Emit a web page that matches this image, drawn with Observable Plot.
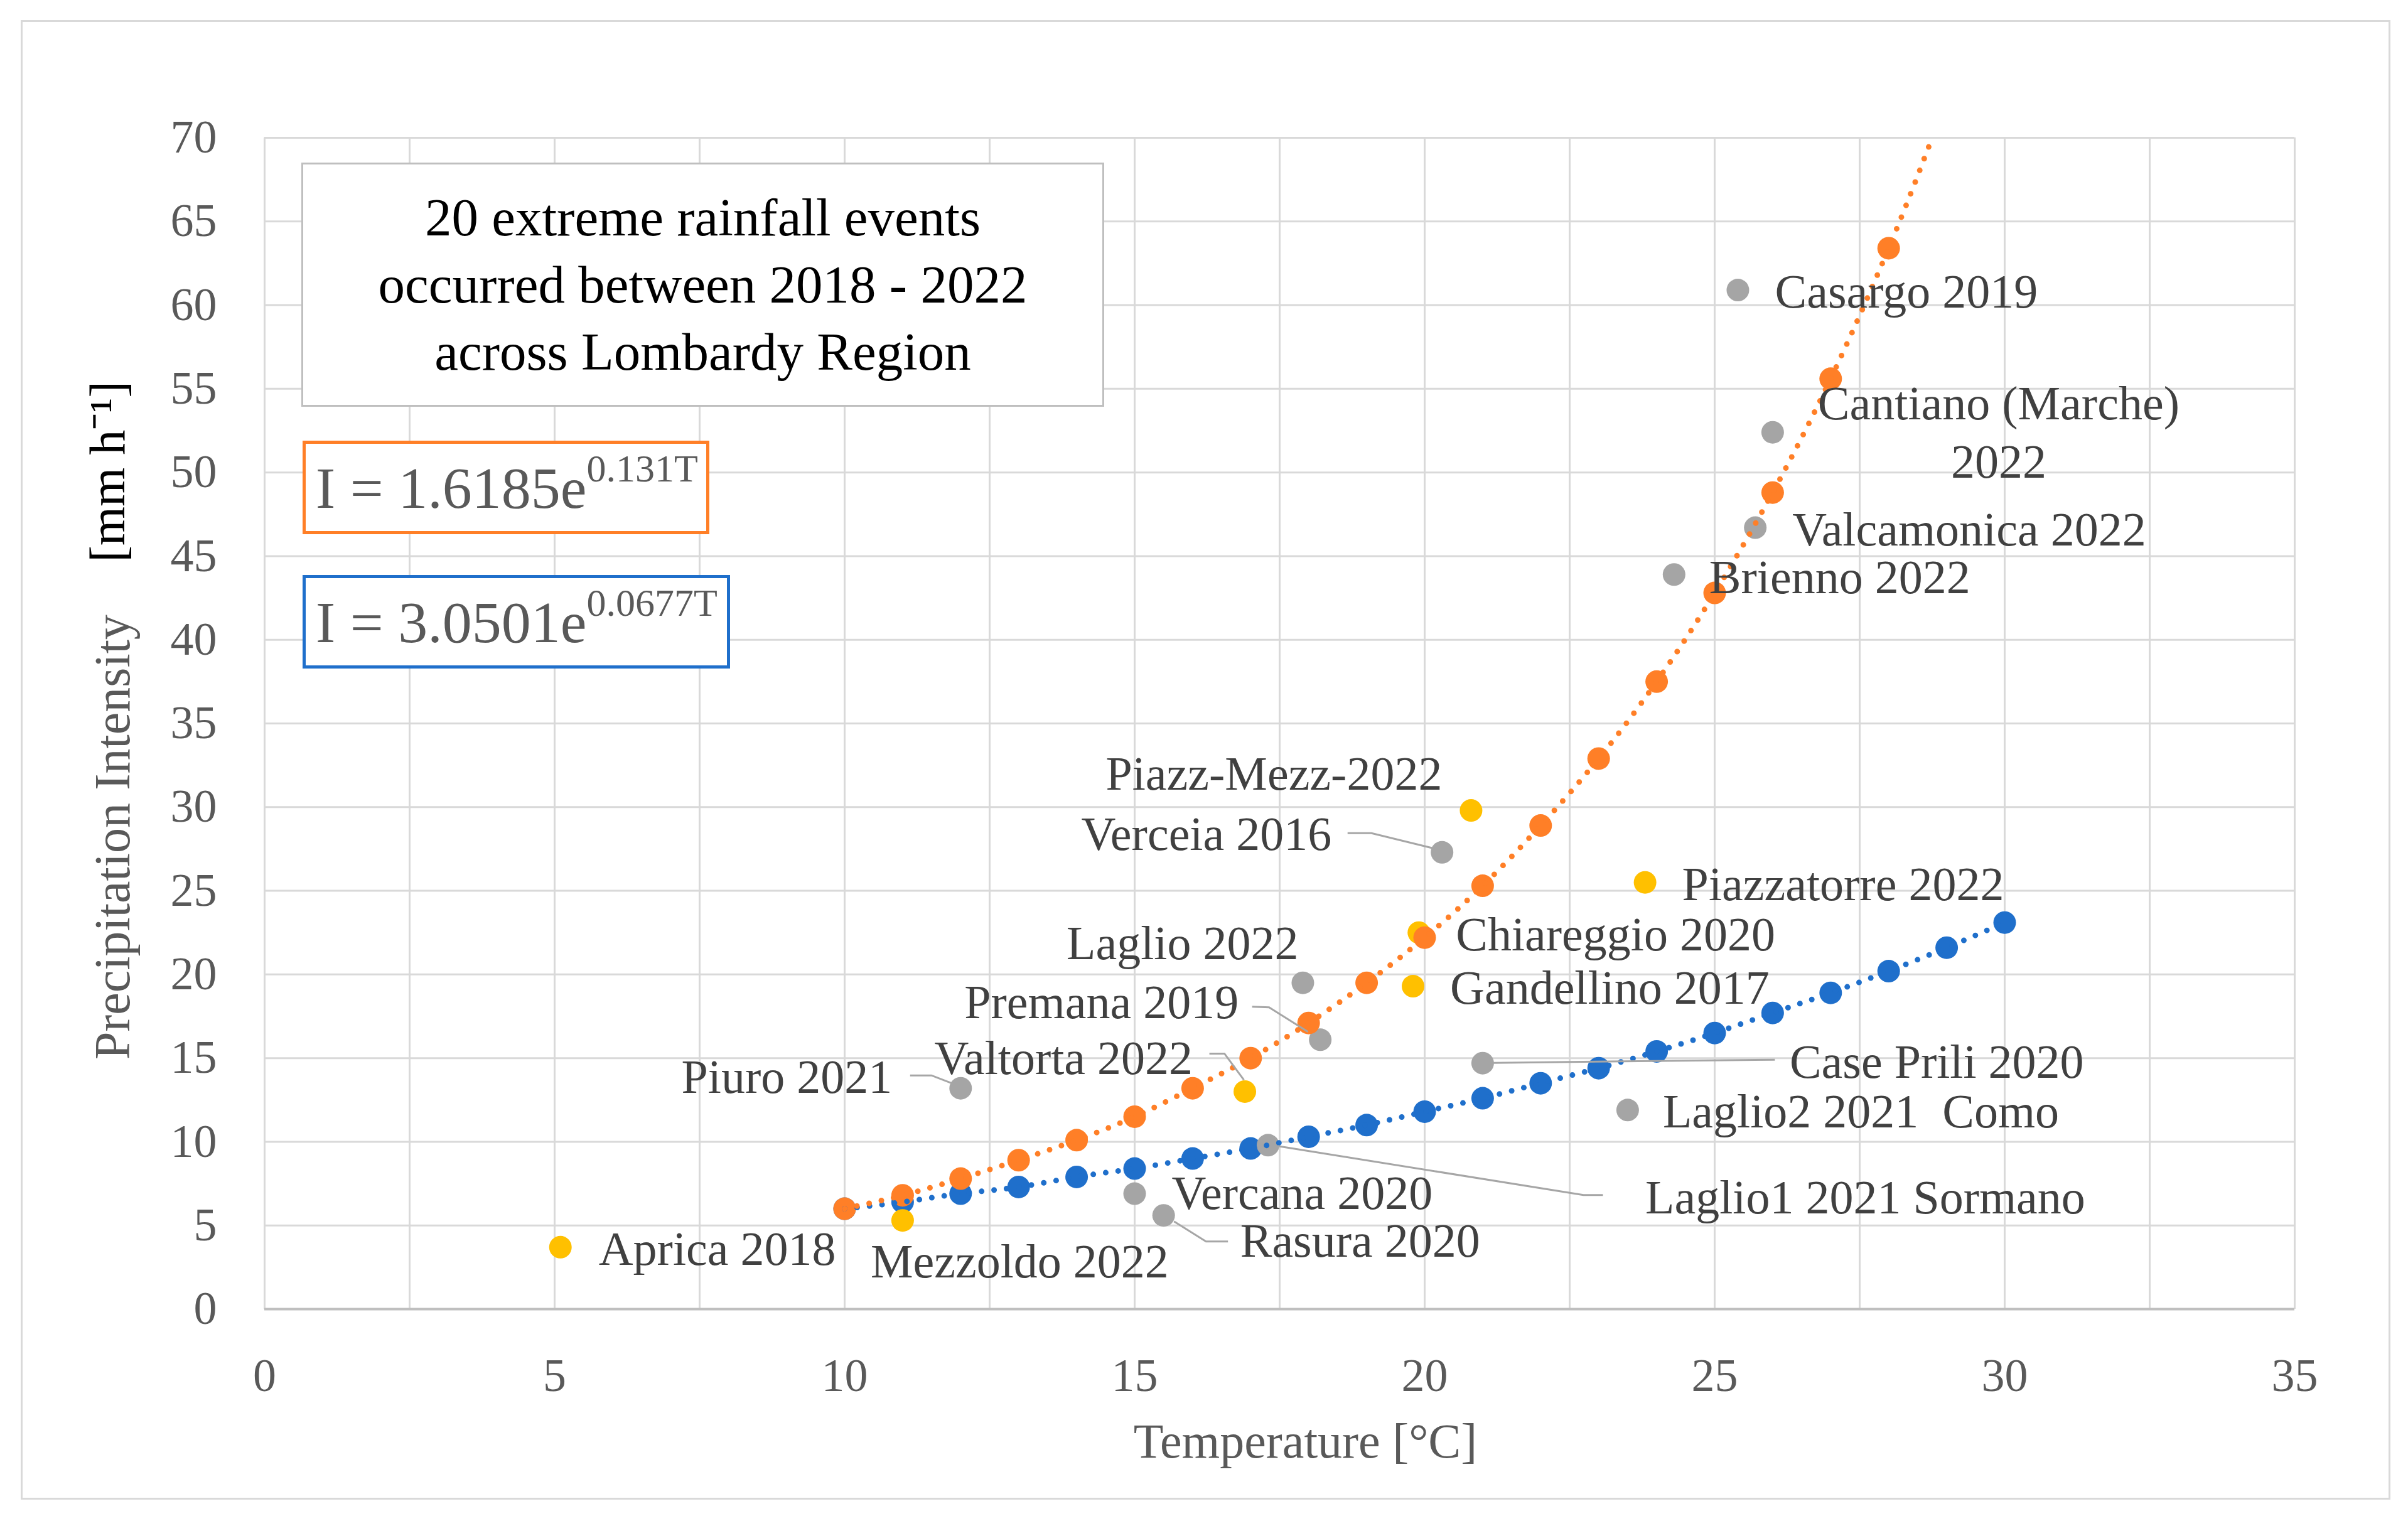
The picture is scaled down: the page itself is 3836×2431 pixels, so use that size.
<!DOCTYPE html>
<html>
<head>
<meta charset="utf-8">
<script src="https://cdn.jsdelivr.net/npm/d3@7"></script>
<script src="https://cdn.jsdelivr.net/npm/@observablehq/plot@0.6"></script>
<style>
  body { margin: 0; background: white; }
  #wrap { position: relative; width: 3836px; height: 2431px; font-family: "Liberation Serif", serif; }
  #chart { position: absolute; left: 0; top: 0; }
  .box { position: absolute; box-sizing: border-box; background: white; }
  #outer { left: 33px; top: 32px; width: 3775px; height: 2357px; border: 3px solid #d9d9d9; background: none; }
  #title { left: 480px; top: 259px; width: 1279px; height: 389px; border: 3px solid #bfbfbf;
           font-size: 85px; line-height: 107px; color: #000; text-align: center;
           display: flex; align-items: center; justify-content: center; }
  .eq { height: 149px; font-size: 94px; color: #595959; padding-left: 16px;
        display: flex; align-items: center; white-space: nowrap; }
  .eq span { font-size: 62px; position: relative; top: -30px; }
  #eqOrange { left: 482px; top: 702px; width: 648px; border: 5px solid #ff7f27; }
  #eqBlue { left: 482px; top: 916px; width: 681px; border: 5px solid #1f6fcb; }
</style>
</head>
<body>
<div id="wrap">
  <div id="chart"></div>
  <div class="box" id="outer"></div>
  <div class="box" id="title"><div>20 extreme rainfall events<br>occurred between 2018 - 2022<br>across Lombardy Region</div></div>
  <div class="box eq" id="eqOrange">I = 1.6185e<span>0.131T</span></div>
  <div class="box eq" id="eqBlue">I = 3.0501e<span>0.0677T</span></div>
</div>
<script>
// axis ticks
const xTicks = [0, 5, 10, 15, 20, 25, 30, 35];
const xGrid = [0, 2.5, 5, 7.5, 10, 12.5, 15, 17.5, 20, 22.5, 25, 27.5, 30, 32.5, 35];
const yTicks = [0, 5, 10, 15, 20, 25, 30, 35, 40, 45, 50, 55, 60, 65, 70];

// orange series (points on I = 1.6185e^0.131T)
const orangeT = [10, 11, 12, 13, 14, 15, 16, 17, 18, 19, 20, 21, 22, 23, 24, 25, 26, 27, 28];
const orangeI = [6.0, 6.8, 7.8, 8.9, 10.1, 11.5, 13.2, 15.0, 17.1, 19.5, 22.2, 25.3, 28.9, 32.9, 37.5, 42.8, 48.8, 55.6, 63.4];
// where the orange trendline leaves the top of the chart
const orangeEnd = {t: 28.75, i: 70};

// blue series (points on I = 3.0501e^0.0677T)
const blueT = [10, 11, 12, 13, 14, 15, 16, 17, 18, 19, 20, 21, 22, 23, 24, 25, 26, 27, 28, 29, 30];
const blueI = [6.0, 6.4, 6.9, 7.3, 7.9, 8.4, 9.0, 9.6, 10.3, 11.0, 11.8, 12.6, 13.5, 14.4, 15.4, 16.5, 17.7, 18.9, 20.2, 21.6, 23.1];

// the 20 events
const eventNames = ["Casargo 2019", "Cantiano (Marche)\n2022", "Valcamonica 2022", "Brienno 2022", "Verceia 2016",
  "Laglio 2022", "Premana 2019", "Piuro 2021", "Case Prili 2020", "Laglio2 2021\u00a0 Como",
  "Laglio1 2021 Sormano", "Vercana 2020", "Rasura 2020",
  "Piazz-Mezz-2022", "Piazzatorre 2022", "Chiareggio 2020", "Gandellino 2017", "Valtorta 2022",
  "Aprica 2018", "Mezzoldo 2022"];
const eventT = [25.4, 26.0, 25.7, 24.3, 20.3, 17.9, 18.2, 12.0, 21.0, 23.5, 17.3, 15.0, 15.5,
  20.8, 23.8, 19.9, 19.8, 16.9, 5.1, 11.0];
const eventI = [60.9, 52.4, 46.7, 43.9, 27.3, 19.5, 16.1, 13.2, 14.7, 11.9, 9.8, 6.9, 5.6,
  29.8, 25.5, 22.5, 19.3, 13.0, 3.7, 5.3];
const eventGroup = ["gray", "gray", "gray", "gray", "gray", "gray", "gray", "gray", "gray", "gray", "gray", "gray", "gray",
  "yellow", "yellow", "yellow", "yellow", "yellow", "yellow", "yellow"];

// label placement in pixels, relative to each point
const labelLayout = [
  {dx: 59, dy: -2, anchor: "start"},
  {dx: 360, dy: -4, anchor: "middle"},
  {dx: 59, dy: -2, anchor: "start"},
  {dx: 56, dy: 0, anchor: "start"},
  {dx: -176, dy: -34, anchor: "end", leader: [[-150, -30], [-112, -30], [-14, -6]]},
  {dx: -7, dy: -68, anchor: "end"},
  {dx: -130, dy: -64, anchor: "end", leader: [[-108, -52], [-81, -51], [-19, -12]]},
  {dx: -109, dy: -23, anchor: "end", leader: [[-80, -20], [-46, -20], [-15, -8]]},
  {dx: 489, dy: -7, anchor: "start", leader: [[17, 0], [466, -5]]},
  {dx: 56, dy: -2, anchor: "start"},
  {dx: 601, dy: 79, anchor: "start", leader: [[16, 2], [503, 80], [534, 80]]},
  {dx: 59, dy: -5, anchor: "start"},
  {dx: 122, dy: 36, anchor: "start", leader: [[17, 10], [68, 42], [103, 42]]},
  {dx: -46, dy: -63, anchor: "end"},
  {dx: 59, dy: -2, anchor: "start"},
  {dx: 59, dy: -2, anchor: "start"},
  {dx: 59, dy: -2, anchor: "start"},
  {dx: -83, dy: -58, anchor: "end", leader: [[-56, -60], [-32, -60], [-1, -18]]},
  {dx: 61, dy: -2, anchor: "start"},
  {dx: -51, dy: 61, anchor: "start"}
];

const colors = {orange: "#ff7f27", blue: "#1f6fcb", gray: "#a5a5a5", yellow: "#ffc000"};

const orange = orangeT.map((t, k) => ({t, i: orangeI[k]}));
const blue = blueT.map((t, k) => ({t, i: blueI[k]}));
const events = eventNames.map((name, k) => ({name, t: eventT[k], i: eventI[k], group: eventGroup[k], lay: labelLayout[k]}));

const dotted = {strokeWidth: 9, strokeDasharray: "0 20", strokeLinecap: "round", curve: "natural"};

const chart = Plot.plot({
  width: 3836,
  height: 2431,
  marginLeft: 421,
  marginRight: 181,
  marginTop: 219,
  marginBottom: 346,
  style: {fontFamily: "'Liberation Serif', serif", fontSize: "74px", color: "#595959", background: "transparent"},
  x: {domain: [0, 35]},
  y: {domain: [0, 70]},
  marks: [
    Plot.gridX(xGrid, {stroke: "#d9d9d9", strokeOpacity: 1, strokeWidth: 3}),
    Plot.gridY(yTicks, {stroke: "#d9d9d9", strokeOpacity: 1, strokeWidth: 3}),
    Plot.ruleY([0], {stroke: "#bfbfbf", strokeWidth: 4}),
    Plot.axisX({ticks: xTicks, tickSize: 0, tickPadding: 78, label: null, fontSize: 74}),
    Plot.axisY({ticks: yTicks, tickSize: 0, tickPadding: 76, label: null, fontSize: 74}),
    Plot.text(["Temperature [°C]"], {frameAnchor: "bottom", dy: 236, dx: 41, text: d => d, fontSize: 78, fill: "#595959"}),
    Plot.text(["Precipitation Intensity"], {frameAnchor: "left", textAnchor: "middle", rotate: -90, dx: -241, dy: 181, text: d => d, fontSize: 80, fill: "#595959"}),
    Plot.text(["[mm h\u207b\u00b9]"], {frameAnchor: "left", textAnchor: "middle", rotate: -90, dx: -249, dy: -401, text: d => d, fontSize: 80, fill: "#000"}),
    Plot.dot(blue, {x: "t", y: "i", r: 18, fill: colors.blue}),
    Plot.dot(events.filter(d => d.group === "gray"), {x: "t", y: "i", r: 18, fill: colors.gray}),
    Plot.dot(events.filter(d => d.group === "yellow"), {x: "t", y: "i", r: 18, fill: colors.yellow}),
    Plot.dot(orange, {x: "t", y: "i", r: 18, fill: colors.orange}),
    Plot.line(blue, {x: "t", y: "i", stroke: colors.blue, ...dotted}),
    Plot.line([...orange, orangeEnd], {x: "t", y: "i", stroke: colors.orange, ...dotted}),
    ...events.map(e => Plot.text([e], {
      x: "t", y: "i", text: "name",
      dx: e.lay.dx, dy: e.lay.dy, textAnchor: e.lay.anchor,
      lineAnchor: "middle", lineHeight: 1.23,
      fontSize: 76, fill: "#404040"
    }))
  ]
});

// leader lines from labels to their points, placed with the chart's own scales
const sx = chart.scale("x"), sy = chart.scale("y");
d3.select(chart).append("g")
  .attr("fill", "none")
  .attr("stroke", "#a6a6a6")
  .attr("stroke-width", 3)
  .selectAll("path")
  .data(events.filter(e => e.lay.leader))
  .join("path")
  .attr("d", e => d3.line()(e.lay.leader.map(([ox, oy]) => [sx.apply(e.t) + ox, sy.apply(e.i) + oy])));

d3.select("#chart").append(() => chart);
</script>
</body>
</html>
